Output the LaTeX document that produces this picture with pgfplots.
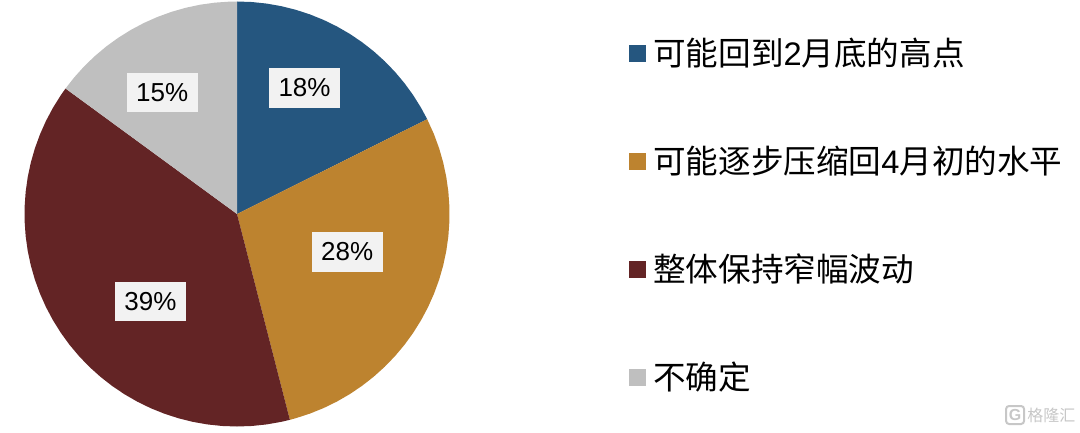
\documentclass[border=0pt]{standalone}
\usepackage{fontspec}
\usepackage{pgfplots}
\pgfplotsset{compat=1.18}
\setmainfont{Liberation Sans}
\newfontfamily\cjk{Noto Sans CJK SC}
\definecolor{cblue}{HTML}{25567F}
\definecolor{corange}{HTML}{BD832F}
\definecolor{cred}{HTML}{632425}
\definecolor{cgrey}{HTML}{BFBFBF}
\definecolor{boxfill}{HTML}{F2F2F2}
\newcommand{\pct}[1]{\node[fill=boxfill,minimum width=71pt,minimum height=39.4pt,inner sep=0pt,font=\fontsize{26}{30}\selectfont] at #1;}
\newcommand{\lab}[2]{\node[anchor=west,inner sep=0pt,font=\fontsize{32.6}{38}\selectfont] at (axis cs:416,#1) {#2};}
\begin{document}
\begin{tikzpicture}
\path[use as bounding box] (0,0) rectangle (1080pt,432pt);
\begin{axis}[
	at={(0,0)},anchor=south west,
	hide axis,scale only axis,clip=false,
	width=1080pt,height=432pt,
	xmin=-237,xmax=843,ymin=-218,ymax=214]
% wedges, angle and radius in picture pixels
\addplot[fill=cblue,draw=none,data cs=polar] coordinates {
	(0,0) (90,212.5) (86,212.5) (82,212.5) (78,212.5) (74,212.5) (70,212.5) (66,212.5)
	(62,212.5) (58,212.5) (54,212.5) (50,212.5) (46,212.5) (42,212.5) (38,212.5)
	(34,212.5) (30,212.5) (26.5,212.5)} --cycle;
\addplot[fill=corange,draw=none,data cs=polar] coordinates {
	(0,0) (26.5,212.5) (22,212.5) (18,212.5) (14,212.5) (10,212.5) (6,212.5) (2,212.5)
	(-2,212.5) (-6,212.5) (-10,212.5) (-14,212.5) (-18,212.5) (-22,212.5) (-26,212.5)
	(-30,212.5) (-34,212.5) (-38,212.5) (-42,212.5) (-46,212.5) (-50,212.5) (-54,212.5)
	(-58,212.5) (-62,212.5) (-66,212.5) (-70,212.5) (-74,212.5) (-75.6,212.5)} --cycle;
\addplot[fill=cred,draw=none,data cs=polar] coordinates {
	(0,0) (-75.6,212.5) (-78,212.5) (-82,212.5) (-86,212.5) (-90,212.5) (-94,212.5)
	(-98,212.5) (-102,212.5) (-106,212.5) (-110,212.5) (-114,212.5) (-118,212.5)
	(-122,212.5) (-126,212.5) (-130,212.5) (-134,212.5) (-138,212.5) (-142,212.5)
	(-146,212.5) (-150,212.5) (-154,212.5) (-158,212.5) (-162,212.5) (-166,212.5)
	(-170,212.5) (-174,212.5) (-178,212.5) (-182,212.5) (-186,212.5) (-190,212.5)
	(-194,212.5) (-198,212.5) (-202,212.5) (-206,212.5) (-210,212.5) (-214,212.5)
	(-216.2,212.5)} --cycle;
\addplot[fill=cgrey,draw=none,data cs=polar] coordinates {
	(0,0) (143.8,212.5) (140,212.5) (136,212.5) (132,212.5) (128,212.5) (124,212.5)
	(120,212.5) (116,212.5) (112,212.5) (108,212.5) (104,212.5) (100,212.5) (96,212.5)
	(92,212.5) (90,212.5)} --cycle;
% value labels
\pct{(axis cs:67.5,126) {18\%}}
\pct{(axis cs:110.2,-38) {28\%}}
\pct{(axis cs:-86.5,-87.3) {39\%}}
\pct{(axis cs:-74.8,121.7) {15\%}}
% legend
\addplot[only marks,mark=square*,mark size=8.15pt,color=cblue] coordinates {(400.5,160.5)};
\addplot[only marks,mark=square*,mark size=8.15pt,color=corange] coordinates {(400.5,52.5)};
\addplot[only marks,mark=square*,mark size=8.15pt,color=cred] coordinates {(400.5,-55.3)};
\addplot[only marks,mark=square*,mark size=8.15pt,color=cgrey] coordinates {(400.5,-163.2)};
\lab{160.5}{{\cjk 可能回到}2{\cjk 月底的高点}}
\lab{52.5}{{\cjk 可能逐步压缩回}4{\cjk 月初的水平}}
\lab{-55.3}{{\cjk 整体保持窄幅波动}}
\lab{-163.2}{{\cjk 不确定}}
% watermark
\node[draw=black!22,line width=2pt,rounded corners=3pt,minimum size=18pt,inner sep=0pt,text=black!22,font=\bfseries\fontsize{16}{16}\selectfont] at (axis cs:778,-201) {G};
\node[anchor=west,inner sep=0pt,text=black!22,font=\cjk\fontsize{16}{16}\selectfont] at (axis cs:790,-201) {格隆汇};
\end{axis}
\end{tikzpicture}
\end{document}
